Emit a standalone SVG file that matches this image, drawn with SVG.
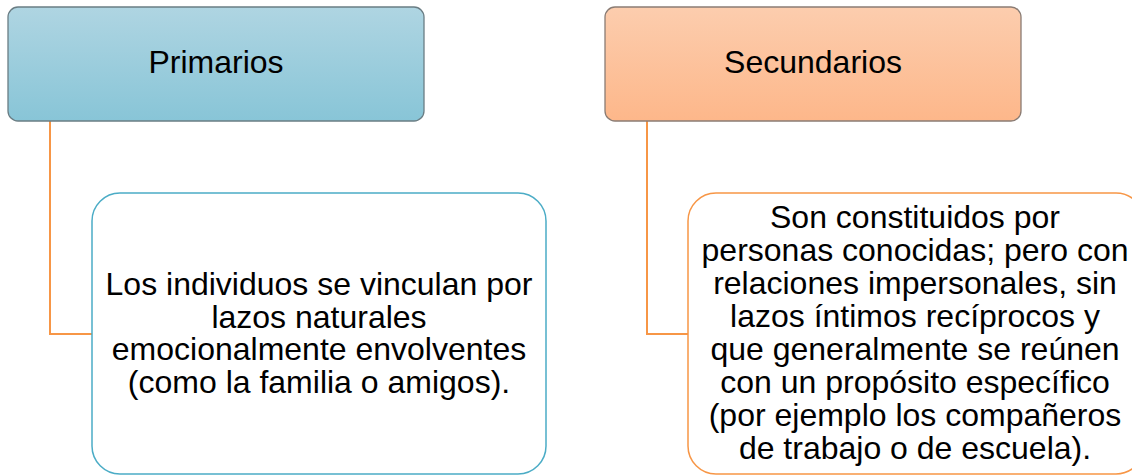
<svg xmlns="http://www.w3.org/2000/svg" width="1132" height="476" viewBox="0 0 1132 476">
<defs>
<linearGradient id="gBlue" x1="0" y1="0" x2="0" y2="1">
<stop offset="0" stop-color="#afd5e2"/>
<stop offset="1" stop-color="#88c5d7"/>
</linearGradient>
<linearGradient id="gOrange" x1="0" y1="0" x2="0" y2="1">
<stop offset="0" stop-color="#fccdae"/>
<stop offset="1" stop-color="#fdb78a"/>
</linearGradient>
</defs>
<style>
text{font-family:"Liberation Sans",Arial,sans-serif;font-size:32px;fill:#000;text-anchor:middle}
.conn{fill:none;stroke:#f79646;stroke-width:2}
</style>
<rect width="1132" height="476" fill="#fff"/>
<g id="connectors">
<path class="conn" d="M50 121 V334 H92"/>
<path class="conn" d="M647 121 V334 H688"/>
</g>
<g id="primarios">
<rect x="8" y="7" width="416" height="114" rx="10" fill="url(#gBlue)" stroke="#6a7d84" stroke-width="1.3"/>
<text x="216" y="73">Primarios</text>
</g>
<g id="secundarios">
<rect x="605" y="7" width="416" height="114" rx="10" fill="url(#gOrange)" stroke="#8a7c74" stroke-width="1.3"/>
<text x="813" y="73">Secundarios</text>
</g>
<g id="primarios-desc">
<rect x="92" y="193" width="454" height="281" rx="28" fill="#fff" stroke="#4bacc6" stroke-width="1.5"/>
<text x="319" y="295">Los individuos se vinculan por</text>
<text x="319" y="327.5">lazos naturales</text>
<text x="319" y="360">emocionalmente envolventes</text>
<text x="319" y="392.5">(como la familia o amigos).</text>
</g>
<g id="secundarios-desc">
<rect x="688" y="193" width="456" height="281" rx="28" fill="#fff" stroke="#f79646" stroke-width="1.5"/>
<text x="915" y="228">Son constituidos por</text>
<text x="915" y="261">personas conocidas; pero con</text>
<text x="915" y="294">relaciones impersonales, sin</text>
<text x="915" y="327">lazos íntimos recíprocos y</text>
<text x="915" y="360">que generalmente se reúnen</text>
<text x="915" y="393">con un propósito específico</text>
<text x="915" y="426">(por ejemplo los compañeros</text>
<text x="915" y="459">de trabajo o de escuela).</text>
</g>
</svg>
